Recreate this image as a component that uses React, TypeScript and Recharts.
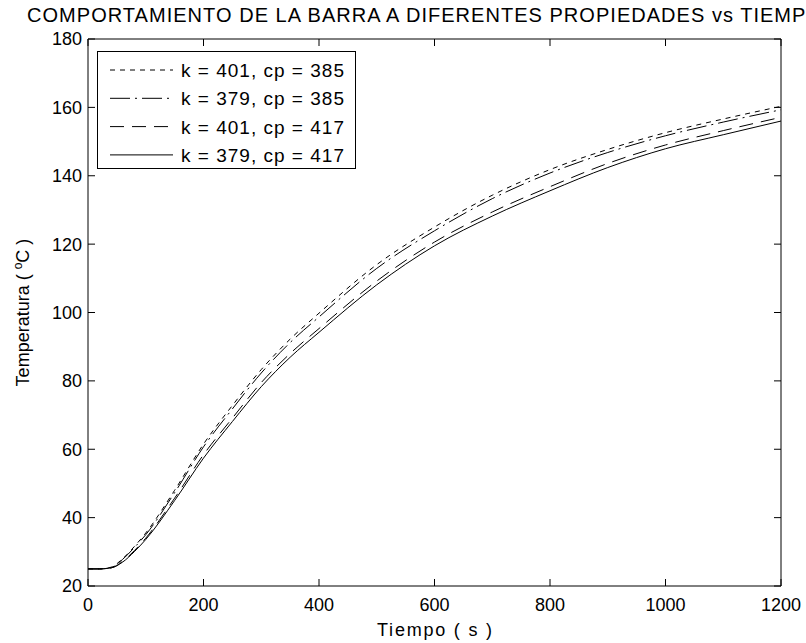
import { Legend, Line, LineChart, XAxis, YAxis } from "recharts";

const FONT = '"Liberation Sans", Arial, Helvetica, sans-serif';

const TITLE = "COMPORTAMIENTO DE LA BARRA A DIFERENTES PROPIEDADES vs TIEMPO";

// tiempo (s)
const time = [0, 20, 40, 60, 80, 100, 150, 200, 250, 300, 350, 400, 500, 600, 700, 800, 900, 1000, 1100, 1200];

// temperatura (°C) for each property set
const k401cp385 = [25, 25, 25.5, 28, 31.5, 35.5, 48, 61.5, 72.8, 83.3, 92.2, 99.8, 114, 125, 134.3, 141.8, 147.7, 152.6, 156.6, 160.3];
const k379cp385 = [25, 25, 25.4, 27.8, 31.2, 35, 47.3, 60.7, 71.8, 82.3, 91.2, 98.7, 112.9, 123.9, 133.3, 140.8, 146.8, 151.7, 155.7, 159.3];
const k401cp417 = [25, 25, 25.3, 27.2, 30.3, 34, 45.7, 58.4, 69.1, 79.5, 88, 95.3, 109.2, 120.6, 129.4, 136.8, 143.6, 149, 153.2, 157.1];
const k379cp417 = [25, 25, 25.3, 27, 30, 33.6, 45, 57.4, 68.1, 78.3, 86.9, 94.2, 108.1, 119.5, 128.2, 135.6, 142.4, 147.9, 152, 156];

const xTicks = [0, 200, 400, 600, 800, 1000, 1200];
const yTicks = [20, 40, 60, 80, 100, 120, 140, 160, 180];

const series = [
  { key: "s1", name: "k = 401, cp = 385", values: k401cp385, dash: "5 5" },
  { key: "s2", name: "k = 379, cp = 385", values: k379cp385, dash: "20 5 2 5" },
  { key: "s3", name: "k = 401, cp = 417", values: k401cp417, dash: "14 8" },
  { key: "s4", name: "k = 379, cp = 417", values: k379cp417, dash: undefined },
];

const data = time.map((t, i) => {
  const row: Record<string, number> = { t };
  series.forEach((s) => {
    row[s.key] = s.values[i];
  });
  return row;
});

// legend drawn in series order (recharts sorts payload by name otherwise)
function LegendBox() {
  return (
    <svg width={260} height={119} style={{ display: "block" }}>
      <rect x={0.5} y={0.5} width={258} height={117} fill="#fff" stroke="#000" />
      {series.map((s, i) => {
        const cy = 19 + i * 28.3;
        return (
          <g key={s.key}>
            <line x1={13} x2={76} y1={cy} y2={cy} stroke="#000" strokeDasharray={s.dash} />
            <text
              x={84}
              y={cy + 7}
              fontSize={19}
              fontFamily={FONT}
              fill="#000"
              textLength={163}
              lengthAdjust="spacing"
            >
              {s.name}
            </text>
          </g>
        );
      })}
    </svg>
  );
}

function renderTitle(props: any) {
  const vb = props.viewBox;
  return (
    <text
      x={vb.x + vb.width / 2 - 10}
      y={22}
      textAnchor="middle"
      fontSize={20}
      fontFamily={FONT}
      fill="#000"
      textLength={795}
      lengthAdjust="spacing"
    >
      {TITLE}
    </text>
  );
}

function renderXLabel(props: any) {
  const vb = props.viewBox;
  return (
    <text
      x={vb.x + vb.width / 2}
      y={636}
      textAnchor="middle"
      fontSize={18}
      fontFamily={FONT}
      fill="#000"
      textLength={115}
      lengthAdjust="spacing"
    >
      Tiempo ( s )
    </text>
  );
}

function renderYLabel(props: any) {
  const vb = props.viewBox;
  const x = 29;
  const y = vb.y + vb.height / 2;
  return (
    <text
      x={x}
      y={y}
      transform={`rotate(-90, ${x}, ${y})`}
      textAnchor="middle"
      fontSize={18}
      fontFamily={FONT}
      fill="#000"
    >
      Temperatura ({" "}
      <tspan dy={-7} fontSize={12}>
        o
      </tspan>
      <tspan dy={7}>C )</tspan>
    </text>
  );
}

const tickStyle = { fill: "#000", fontSize: 18, fontFamily: FONT };
const noText = () => "";

export default function App() {
  return (
    <div style={{ position: "absolute", left: 0, top: 0, width: 806, height: 643, background: "#fff" }}>
      <LineChart width={806} height={643} data={data} margin={{ top: 38, right: 24, bottom: 17, left: 28 }}>
        <XAxis
          dataKey="t"
          type="number"
          domain={[0, 1200]}
          ticks={xTicks}
          interval={0}
          height={40}
          tick={tickStyle}
          tickSize={-7}
          tickMargin={19}
          axisLine={{ stroke: "#000" }}
          tickLine={{ stroke: "#000" }}
          label={{ content: renderXLabel }}
        />
        <XAxis
          xAxisId="top"
          orientation="top"
          dataKey="t"
          type="number"
          domain={[0, 1200]}
          ticks={xTicks}
          interval={0}
          height={1}
          tick={tickStyle}
          tickFormatter={noText}
          tickSize={-7}
          axisLine={{ stroke: "#000" }}
          tickLine={{ stroke: "#000" }}
          label={{ content: renderTitle }}
        />
        <YAxis
          type="number"
          domain={[20, 180]}
          ticks={yTicks}
          interval={0}
          width={60}
          tick={tickStyle}
          tickSize={-7}
          tickMargin={13}
          axisLine={{ stroke: "#000" }}
          tickLine={{ stroke: "#000" }}
          label={{ content: renderYLabel }}
        />
        <YAxis
          yAxisId="right"
          orientation="right"
          type="number"
          domain={[20, 180]}
          ticks={yTicks}
          interval={0}
          width={1}
          tick={tickStyle}
          tickFormatter={noText}
          tickSize={-7}
          axisLine={{ stroke: "#000" }}
          tickLine={{ stroke: "#000" }}
        />
        <Legend
          layout="horizontal"
          align="center"
          verticalAlign="middle"
          content={<LegendBox />}
          wrapperStyle={{ left: 97, top: 51, width: 260, height: 119 }}
        />
        {series.map((s, i) => (
          <Line
            key={s.key}
            xAxisId={i === 0 ? "top" : 0}
            yAxisId={i === 0 ? "right" : 0}
            type="monotone"
            dataKey={s.key}
            name={s.name}
            stroke="#000"
            strokeWidth={1}
            strokeDasharray={s.dash}
            dot={false}
            activeDot={false}
            isAnimationActive={false}
          />
        ))}
      </LineChart>
    </div>
  );
}
